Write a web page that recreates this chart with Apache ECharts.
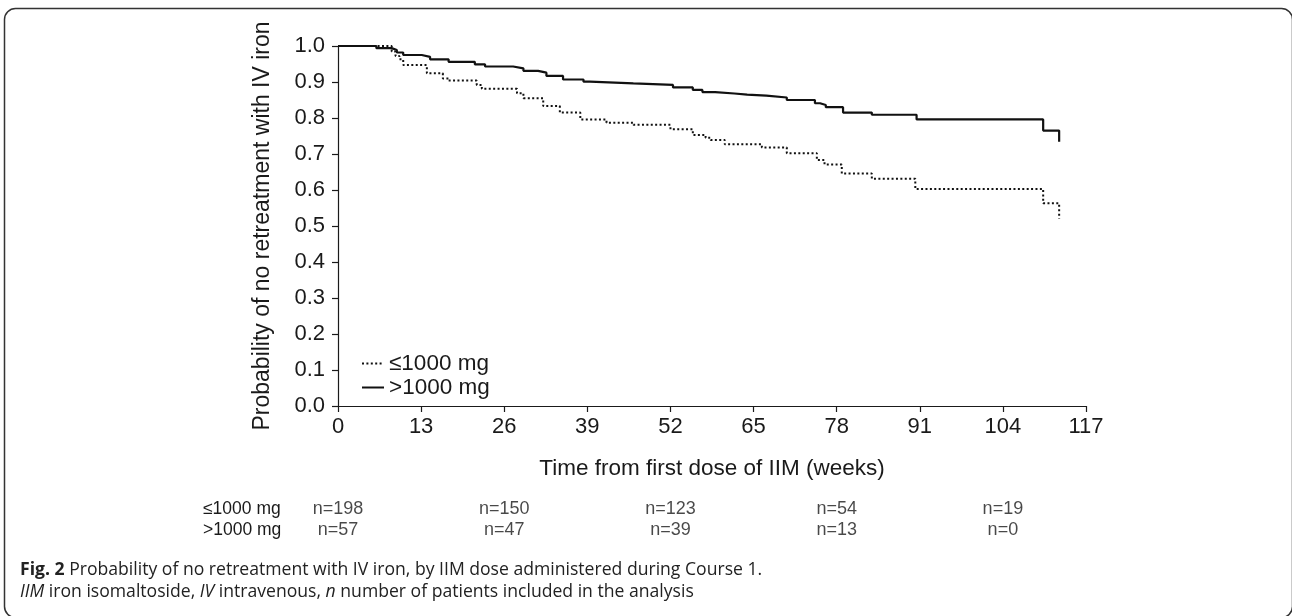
<!DOCTYPE html>
<html>
<head>
<meta charset="utf-8">
<script src="https://cdn.jsdelivr.net/npm/echarts@6/dist/echarts.min.js"></script>
<style>
  html, body { margin: 0; padding: 0; background: #fff; }
  #chart { width: 1292px; height: 616px; }
</style>
</head>
<body>
<div id="chart"></div>
<script>
// ---- data ----
const seriesNames = ['≤1000 mg', '>1000 mg'];

// ≤1000 mg (dotted) Kaplan-Meier steps: week at which the value starts
const weeksLow = [0, 8.4, 9.0, 9.6, 10.2, 13.9, 16.4, 17.3, 21.7, 22.5, 28, 29, 32.1, 34.7, 37.9, 42, 46.2, 52, 55.5, 57.5, 58.3, 60.5, 66.3, 70.2, 74.9, 76.1, 78.8, 83.5, 90.3, 110.3, 112.8];
const probLow  = [1.0, 0.985, 0.972, 0.963, 0.947, 0.924, 0.910, 0.904, 0.892, 0.881, 0.869, 0.855, 0.833, 0.815, 0.796, 0.787, 0.781, 0.769, 0.753, 0.745, 0.739, 0.727, 0.718, 0.702, 0.683, 0.671, 0.646, 0.631, 0.603, 0.563, 0.521];

// >1000 mg (solid)
const weeksHigh = [0, 6, 8.4, 9.2, 10.2, 13.1, 14.4, 17.3, 21.4, 23, 27.4, 29, 31.3, 32.6, 35.2, 38.4, 39.4, 46.2, 52.4, 55.5, 57, 59, 62, 64, 67, 70.2, 74.6, 75.4, 76.3, 79, 83.5, 90.5, 110.3, 112.8];
const probHigh  = [1.0, 0.994, 0.989, 0.982, 0.975, 0.970, 0.963, 0.956, 0.949, 0.943, 0.938, 0.931, 0.926, 0.917, 0.907, 0.901, 0.896, 0.892, 0.885, 0.878, 0.872, 0.868, 0.865, 0.862, 0.857, 0.850, 0.841, 0.836, 0.830, 0.815, 0.809, 0.796, 0.765, 0.734];

// numbers at risk
const riskWeeks = [0, 26, 52, 78, 104];
const riskLow   = [198, 150, 123, 54, 19];
const riskHigh  = [57, 47, 39, 13, 0];

const xTickInterval = 13;
const xMax = 117;
const yTickInterval = 0.1;

const yAxisTitle = 'Probability of no retreatment with IV iron';
const xAxisTitle = 'Time from first dose of IIM (weeks)';
const captionLine1 = '{b|Fig. 2} Probability of no retreatment with IV iron, by IIM dose administered during Course 1.';
const captionLine2 = '{i|IIM} iron isomaltoside, {i|IV} intravenous, {i|n} number of patients included in the analysis';

// ---- chart ----
const chart = echarts.init(document.getElementById('chart'), null, { renderer: 'canvas' });
const ink = '#1a1a1a';
const axisFont = 'Liberation Sans, Arial, sans-serif';

const zip = (xs, ys) => xs.map((x, i) => [x, ys[i]]);

const riskData = [];
riskWeeks.forEach((w, i) => {
  riskData.push([w, seriesNames[0], riskLow[i]]);
  riskData.push([w, seriesNames[1], riskHigh[i]]);
});

const dottedStyle = { color: '#111', width: 2, type: [2, 2.4] };
const solidStyle = { color: '#111', width: 2.2, type: 'solid' };

const option = {
  backgroundColor: '#fff',
  animation: false,
  grid: [
    { left: 338, top: 46, width: 748, height: 360 },
    { left: 338, top: 499, width: 748, height: 42 }
  ],
  xAxis: [
    {
      gridIndex: 0, type: 'value', min: 0, max: xMax, interval: xTickInterval,
      axisLine: { show: true, lineStyle: { color: ink, width: 1.2 } },
      axisTick: { show: true, length: 6, lineStyle: { color: ink, width: 1.2 } },
      splitLine: { show: false },
      axisLabel: { color: ink, fontSize: 22, fontFamily: axisFont, margin: 10 },
      name: xAxisTitle, nameLocation: 'middle', nameGap: 51,
      nameTextStyle: { color: ink, fontSize: 22.5, fontFamily: axisFont }
    },
    {
      gridIndex: 1, type: 'value', min: 0, max: xMax, show: false
    }
  ],
  yAxis: [
    {
      gridIndex: 0, type: 'value', min: 0, max: 1, interval: yTickInterval,
      axisLine: { show: true, lineStyle: { color: ink, width: 1.2 } },
      axisTick: { show: true, length: 6, lineStyle: { color: ink, width: 1.2 } },
      splitLine: { show: false },
      axisLabel: { color: ink, fontSize: 22, fontFamily: axisFont, margin: 13,
        formatter: v => v.toFixed(1) },
      name: yAxisTitle, nameLocation: 'middle', nameRotate: 90, nameGap: 64,
      nameTextStyle: { color: ink, fontSize: 23, fontFamily: axisFont }
    },
    {
      gridIndex: 1, type: 'category', data: seriesNames, inverse: true,
      axisLine: { show: false }, axisTick: { show: false }, splitLine: { show: false },
      axisLabel: { show: true, interval: 0, color: ink, fontSize: 17.5, fontFamily: axisFont, align: 'left', margin: 135 }
    }
  ],
  legend: {
    show: true,
    orient: 'vertical', left: 356, top: 347,
    itemWidth: 22, itemHeight: 12, itemGap: 1,
    textStyle: { color: ink, fontSize: 22.5, fontFamily: axisFont },
    itemStyle: { opacity: 0 },
    data: seriesNames
  },
  series: [
    {
      name: seriesNames[0], type: 'line', step: 'end', xAxisIndex: 0, yAxisIndex: 0,
      data: zip(weeksLow, probLow), symbol: 'none', showSymbol: false,
      lineStyle: dottedStyle,
      itemStyle: { color: '#111' }
    },
    {
      name: seriesNames[1], type: 'line', step: 'end', xAxisIndex: 0, yAxisIndex: 0,
      data: zip(weeksHigh, probHigh), symbol: 'none', showSymbol: false,
      lineStyle: solidStyle,
      itemStyle: { color: '#111' }
    },
    {
      name: 'risk', type: 'scatter', xAxisIndex: 1, yAxisIndex: 1, data: riskData,
      symbolSize: 1, itemStyle: { color: 'rgba(0,0,0,0)' }, silent: true,
      label: { show: true, position: 'inside', color: ink, fontSize: 18, fontFamily: axisFont,
        formatter: p => 'n=' + p.value[2] }
    }
  ],
  graphic: [
    {
      type: 'rect', silent: true,
      shape: { x: 4.5, y: 8.5, width: 1288, height: 609, r: 11 },
      style: { fill: 'none', stroke: '#333', lineWidth: 1.5 }
    },
    {
      type: 'text', left: 20, top: 561,
      style: {
        text: captionLine1, fill: '#222', font: '17.6px "Open Sans", sans-serif',
        rich: { b: { fontWeight: 'bold', fontSize: 17.6, fontFamily: 'Open Sans' } }
      }
    },
    {
      type: 'text', left: 20, top: 583,
      style: {
        text: captionLine2, fill: '#222', font: '17.6px "Open Sans", sans-serif',
        rich: { i: { fontStyle: 'italic', fontSize: 17.6, fontFamily: 'Open Sans' } }
      }
    }
  ]
};
chart.setOption(option);
</script>
</body>
</html>
